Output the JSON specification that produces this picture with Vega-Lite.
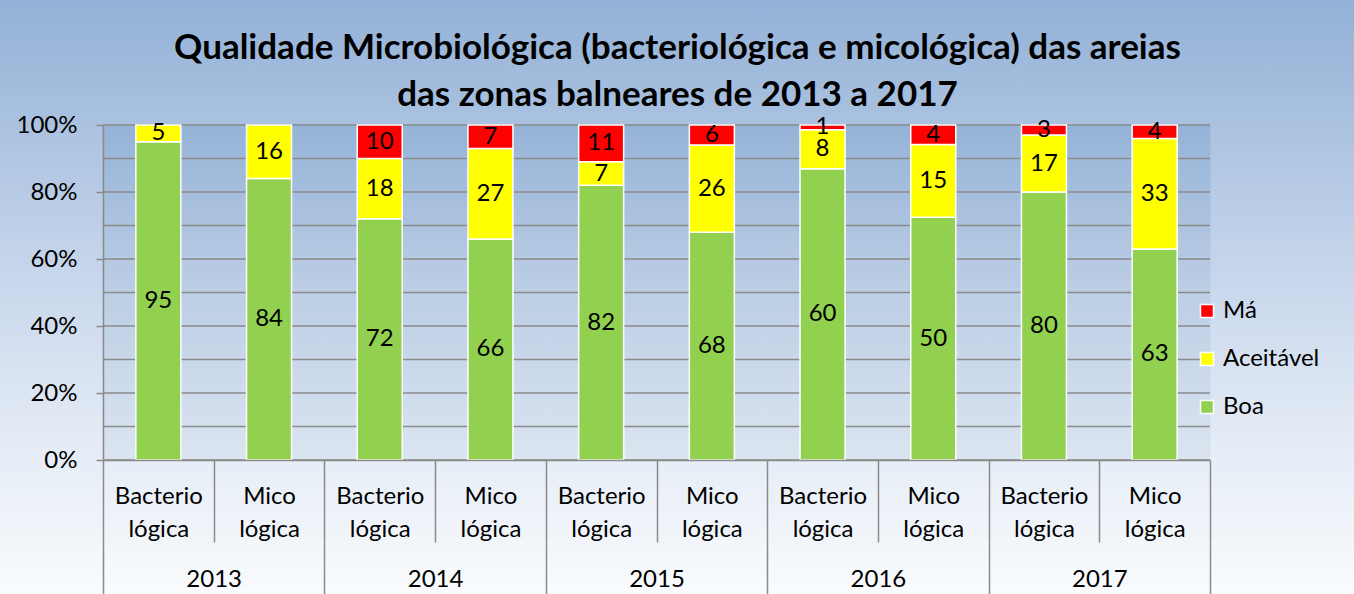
{
  "$schema": "https://vega.github.io/schema/vega-lite/v6.json",
  "width": 1107,
  "height": 335,
  "autosize": {"type": "none"},
  "padding": {"left": 103, "top": 125, "right": 144, "bottom": 134},
  "background": "#ffffff",
  "config": {
    "font": "Lato",
    "view": {
      "fill": null,
      "stroke": {"gradient": "linear", "x1": 0, "y1": -0.373, "x2": 0, "y2": 1.4,
        "stops": [{"offset": 0, "color": "#93b1d7"}, {"offset": 0.5, "color": "#cbd9ed"}, {"offset": 0.75, "color": "#e5ecf6"}, {"offset": 1, "color": "#f9fbfd"}]},
      "strokeWidth": 1400
    },
    "axis": {"labelFont": "Lato", "labelFontSize": 24, "labelColor": "#000000", "tickColor": "#8a8a8a", "domainColor": "#8a8a8a", "tickWidth": 1.5, "domainWidth": 1.5, "grid": false}
  },
  "title": {
    "text": ["Qualidade Microbiológica (bacteriológica e micológica) das areias", "das zonas balneares de 2013 a 2017"],
    "font": "Lato", "fontSize": 35, "fontWeight": "bold", "color": "#000000",
    "anchor": "middle", "frame": "group", "dx": 21, "lineHeight": 47, "offset": 0
  },
  "datasets": {
    "qual": [
      {"ano": "2013", "tipo": "Bacteriológica", "q": "Boa", "v": 95},
      {"ano": "2013", "tipo": "Bacteriológica", "q": "Aceitável", "v": 5},
      {"ano": "2013", "tipo": "Bacteriológica", "q": "Má", "v": 0},
      {"ano": "2013", "tipo": "Micológica", "q": "Boa", "v": 84},
      {"ano": "2013", "tipo": "Micológica", "q": "Aceitável", "v": 16},
      {"ano": "2013", "tipo": "Micológica", "q": "Má", "v": 0},
      {"ano": "2014", "tipo": "Bacteriológica", "q": "Boa", "v": 72},
      {"ano": "2014", "tipo": "Bacteriológica", "q": "Aceitável", "v": 18},
      {"ano": "2014", "tipo": "Bacteriológica", "q": "Má", "v": 10},
      {"ano": "2014", "tipo": "Micológica", "q": "Boa", "v": 66},
      {"ano": "2014", "tipo": "Micológica", "q": "Aceitável", "v": 27},
      {"ano": "2014", "tipo": "Micológica", "q": "Má", "v": 7},
      {"ano": "2015", "tipo": "Bacteriológica", "q": "Boa", "v": 82},
      {"ano": "2015", "tipo": "Bacteriológica", "q": "Aceitável", "v": 7},
      {"ano": "2015", "tipo": "Bacteriológica", "q": "Má", "v": 11},
      {"ano": "2015", "tipo": "Micológica", "q": "Boa", "v": 68},
      {"ano": "2015", "tipo": "Micológica", "q": "Aceitável", "v": 26},
      {"ano": "2015", "tipo": "Micológica", "q": "Má", "v": 6},
      {"ano": "2016", "tipo": "Bacteriológica", "q": "Boa", "v": 60},
      {"ano": "2016", "tipo": "Bacteriológica", "q": "Aceitável", "v": 8},
      {"ano": "2016", "tipo": "Bacteriológica", "q": "Má", "v": 1},
      {"ano": "2016", "tipo": "Micológica", "q": "Boa", "v": 50},
      {"ano": "2016", "tipo": "Micológica", "q": "Aceitável", "v": 15},
      {"ano": "2016", "tipo": "Micológica", "q": "Má", "v": 4},
      {"ano": "2017", "tipo": "Bacteriológica", "q": "Boa", "v": 80},
      {"ano": "2017", "tipo": "Bacteriológica", "q": "Aceitável", "v": 17},
      {"ano": "2017", "tipo": "Bacteriológica", "q": "Má", "v": 3},
      {"ano": "2017", "tipo": "Micológica", "q": "Boa", "v": 63},
      {"ano": "2017", "tipo": "Micológica", "q": "Aceitável", "v": 33},
      {"ano": "2017", "tipo": "Micológica", "q": "Má", "v": 4}
    ],
    "grid": [{"p": 0}, {"p": 0.1}, {"p": 0.2}, {"p": 0.3}, {"p": 0.4}, {"p": 0.5}, {"p": 0.6}, {"p": 0.7}, {"p": 0.8}, {"p": 0.9}, {"p": 1}]
  },
  "layer": [
    {
      "data": {"name": "qual"},
      "transform": [{"aggregate": [{"op": "count", "as": "n"}], "groupby": ["ano"]}],
      "mark": {
        "type": "rect",
        "fill": {"gradient": "linear", "x1": 0, "y1": 0, "x2": 0, "y2": 1,
          "stops": [{"offset": 0, "color": "#95b3d7"}, {"offset": 0.5, "color": "#bccee5"}, {"offset": 1, "color": "#dbe5f1"}]},
        "stroke": {"gradient": "linear", "x1": 0, "y1": 0, "x2": 0, "y2": 1,
          "stops": [{"offset": 0, "color": "#95b3d7"}, {"offset": 0.5, "color": "#bccee5"}, {"offset": 1, "color": "#dbe5f1"}]},
        "strokeWidth": 1
      },
      "encoding": {
        "x": {
          "field": "ano", "type": "nominal",
          "scale": {"paddingInner": 0, "paddingOuter": 0},
          "axis": {"orient": "bottom", "offset": 82, "domain": false, "tickBand": "extent", "tickSize": 52, "labelPadding": -8, "labelBaseline": "alphabetic", "labelAngle": 0, "title": null, "zindex": 1}
        }
      }
    },
    {
      "data": {"name": "grid"},
      "mark": {"type": "rule", "color": "#8a8a8a", "strokeWidth": 1.5},
      "encoding": {
        "y": {
          "field": "p", "type": "quantitative",
          "axis": {"values": [0, 0.1, 0.2, 0.3, 0.4, 0.5, 0.6, 0.7, 0.8, 0.9, 1], "tickCount": 10, "format": ".0%", "tickSize": 7, "labelPadding": 19, "zindex": 1, "title": null}
        }
      }
    },
    {
      "data": {"name": "qual"},
      "transform": [
        {"filter": "datum.v > 0"},
        {"calculate": "datum.ano + '|' + datum.tipo", "as": "cat"},
        {"calculate": "datum.q === 'Boa' ? 0 : (datum.q === 'Má' ? 2 : 1)", "as": "k"},
        {"joinaggregate": [{"op": "sum", "field": "v", "as": "total"}], "groupby": ["cat"]},
        {"calculate": "datum.v / datum.total", "as": "share"},
        {"window": [{"op": "sum", "field": "share", "as": "cum"}], "groupby": ["cat"], "sort": [{"field": "k", "order": "ascending"}], "frame": [null, 0]},
        {"calculate": "datum.cum - datum.share", "as": "base"}
      ],
      "mark": {"type": "bar", "width": 45, "stroke": "#ffffff", "strokeWidth": 1.5},
      "encoding": {
        "x": {
          "field": "cat", "type": "nominal",
          "scale": {"paddingInner": 0, "paddingOuter": 0},
          "axis": {"orient": "bottom", "tickBand": "extent", "tickSize": 82, "labelPadding": -39, "labelBaseline": "alphabetic", "labelLineHeight": 33, "labelAngle": 0, "title": null, "zindex": 1,
            "labelExpr": "isString(datum.value) ? (indexof(datum.value, 'Bact') >= 0 ? ['Bacterio', 'lógica'] : ['Mico', 'lógica']) : ''"}
        },
        "y": {
          "field": "cum", "type": "quantitative",
          "scale": {"domain": [0, 1], "nice": false},
          "axis": {"values": [0, 0.1, 0.2, 0.3, 0.4, 0.5, 0.6, 0.7, 0.8, 0.9, 1], "tickCount": 10, "format": ".0%", "tickSize": 7, "labelPadding": 19, "zindex": 1, "title": null}
        },
        "y2": {"field": "base"},
        "color": {
          "field": "q", "type": "nominal",
          "scale": {"domain": ["Má", "Aceitável", "Boa"], "range": ["#ff0000", "#ffff00", "#92d050"]},
          "legend": {"orient": "none", "legendX": 1092, "legendY": 174, "title": null, "symbolType": "square", "symbolSize": 169, "symbolStrokeColor": "#ffffff", "symbolStrokeWidth": 1.5, "symbolOpacity": 1, "labelFont": "Lato", "labelFontSize": 24, "labelColor": "#000000", "rowPadding": 24, "labelOffset": 4}
        }
      }
    },
    {
      "data": {"name": "qual"},
      "transform": [
        {"filter": "datum.v > 0"},
        {"calculate": "datum.ano + '|' + datum.tipo", "as": "cat"},
        {"calculate": "datum.q === 'Boa' ? 0 : (datum.q === 'Má' ? 2 : 1)", "as": "k"},
        {"joinaggregate": [{"op": "sum", "field": "v", "as": "total"}], "groupby": ["cat"]},
        {"calculate": "datum.v / datum.total", "as": "share"},
        {"window": [{"op": "sum", "field": "share", "as": "cum"}], "groupby": ["cat"], "sort": [{"field": "k", "order": "ascending"}], "frame": [null, 0]},
        {"calculate": "datum.cum - datum.share / 2", "as": "mid"}
      ],
      "mark": {"type": "text", "font": "Lato", "fontSize": 24, "color": "#000000", "baseline": "middle"},
      "encoding": {
        "x": {"field": "cat", "type": "nominal", "scale": {"paddingInner": 0, "paddingOuter": 0}, "axis": null},
        "y": {
          "field": "mid", "type": "quantitative",
          "axis": {"values": [0, 0.1, 0.2, 0.3, 0.4, 0.5, 0.6, 0.7, 0.8, 0.9, 1], "tickCount": 10, "format": ".0%", "tickSize": 7, "labelPadding": 19, "zindex": 1, "title": null}
        },
        "text": {"field": "v", "type": "quantitative"}
      }
    }
  ],
  "resolve": {"scale": {"x": "independent"}, "axis": {"x": "independent"}}
}
